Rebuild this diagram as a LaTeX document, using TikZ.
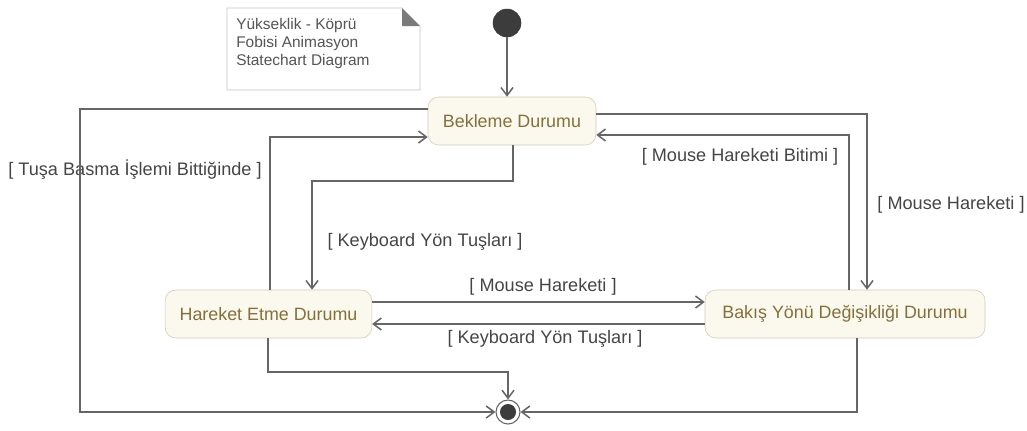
\documentclass[tikz,border=0pt]{standalone}
\usepackage{fontspec}
\setmainfont{Liberation Sans}
\usetikzlibrary{arrows.meta, positioning}

\definecolor{lineg}{HTML}{666666}
\definecolor{statefill}{HTML}{FBF8EE}
\definecolor{stateline}{HTML}{CFC9B8}
\definecolor{statetext}{HTML}{85703C}
\definecolor{labeltext}{HTML}{454545}
\definecolor{dotfill}{HTML}{3C3C3C}
\definecolor{noteline}{HTML}{C4C4C4}
\definecolor{notefold}{HTML}{7A7A7A}
\definecolor{notetext}{HTML}{555555}

\begin{document}
\begin{tikzpicture}[
  x=0.75pt, y=-0.75pt,
  state/.style={draw=stateline, fill=statefill, rounded corners=8pt, minimum height=36pt, inner sep=0pt, text=statetext, font=\fontsize{13.4}{15}\selectfont},
  guard/.style={text=labeltext, font=\fontsize{13.6}{15}\selectfont, inner sep=1pt},
  arrow/.style={draw=lineg, line width=1.15pt, -{Straight Barb[length=6pt,width=9pt]}}
]
  \useasboundingbox (0,0) rectangle (1027,430);

  % note
  \draw [draw=noteline, fill=white] (227,8) -- (402,8) -- (420,26) -- (420,90) -- (227,90) -- cycle;
  \fill [notefold] (402,8) -- (402,26) -- (420,26) -- cycle;
  \node (note) [anchor=north west, align=left, inner sep=0pt, text=notetext, font=\fontsize{11.6}{13.6}\selectfont] at (236,18) {Yükseklik - Köprü\\Fobisi Animasyon\\Statechart Diagram};

  % states
  \node (init) [circle, fill=dotfill, draw=dotfill, minimum size=21pt, inner sep=0pt] at (507,23) {};
  \node (bek) [state, minimum width=126pt] at (512,121) {Bekleme Durumu};
  \node (har) [state, minimum width=155pt] at (268.5,314) {Hareket Etme Durumu};
  \node (bak) [state, minimum width=210pt] at (845,314) {Bakış Yönü Değişikliği Durumu};
  \node (fin) [circle, draw=lineg, line width=0.8pt, fill=white, minimum size=18pt, inner sep=0pt,
    path picture={\fill [dotfill] (path picture bounding box.center) circle (6pt);}] at (508,412) {};

  % guards
  \node (g1) [guard] at (135,170) {[ Tuşa Basma İşlemi Bittiğinde ]};
  \node (g2) [guard] at (425,242) {[ Keyboard Yön Tuşları ]};
  \node (g3) [guard] at (740,157) {[ Mouse Hareketi Bitimi ]};
  \node (g4) [guard] at (951,205) {[ Mouse Hareketi ]};
  \node (g5) [guard] at (543,287) {[ Mouse Hareketi ]};
  \node (g6) [guard] at (545,339) {[ Keyboard Yön Tuşları ]};

  % transitions
  \draw [arrow] (init) -- (init |- bek.north);
  \draw [arrow] (bek.west |- 0,109) -| (80,412) -- (fin.west);
  \draw [arrow] (270,0 |- har.north) |- (bek.west |- 0,137);
  \draw [arrow] (513,0 |- bek.south) -- (513,181) -| (312,0 |- har.north);
  \draw [arrow] (bek.east |- 0,114) -| (867,0 |- bak.north);
  \draw [arrow] (849,0 |- bak.north) |- (bek.east |- 0,135);
  \draw [arrow] (har.east |- 0,302) -- (bak.west |- 0,302);
  \draw [arrow] (bak.west |- 0,324) -- (har.east |- 0,324);
  \draw [arrow] (268,0 |- har.south) -- (268,372) -| (fin.north);
  \draw [arrow] (857,0 |- bak.south) |- (fin.east);
\end{tikzpicture}
\end{document}
